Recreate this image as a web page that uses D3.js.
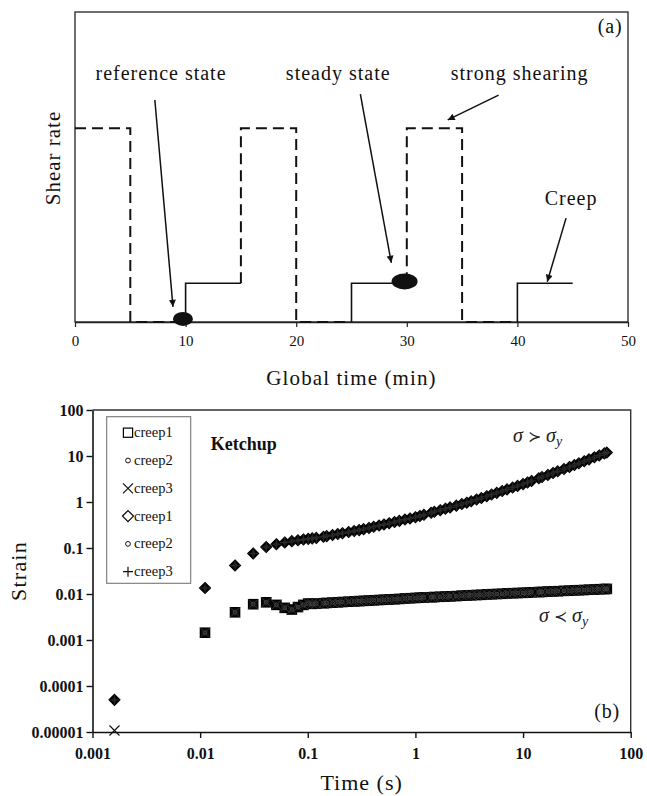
<!DOCTYPE html>
<html><head><meta charset="utf-8">
<script src="https://cdn.jsdelivr.net/npm/d3@7"></script>
<style>body{margin:0;background:#fff}svg{display:block}</style>
</head><body>
<svg id="c" width="647" height="796"></svg>
<script>
// ---------- Panel (a) data ----------
const globalTicks = [0, 10, 20, 30, 40, 50];
const shearHigh = 6.25, shearLow = 1.25;
const dashedProtocol = [
  [[0, shearHigh], [5, shearHigh], [5, 0], [10, 0]],
  [[15, shearLow], [15, shearHigh], [20, shearHigh], [20, 0], [25, 0]],
  [[30, shearLow], [30, shearHigh], [35, shearHigh], [35, 0], [40, 0]]
];
const creepProtocol = [
  [[10, 0], [10, shearLow], [15, shearLow]],
  [[25, 0], [25, shearLow], [30, shearLow]],
  [[40, 0], [40, shearLow], [45, shearLow]]
];
const stateMarkers = [[9.76, 0.1], [29.8, 1.31]];
const annotLabels = ["reference state", "steady state", "strong shearing", "Creep"];
const annotTextPos = [[7.78, 7.8], [23.8, 7.8], [40.2, 7.8], [44.85, 3.77]];
const annotArrows = [
  [[7.22, 7.16], [8.86, 0.49]],
  [[25.8, 7.35], [28.6, 1.91]],
  [[38.3, 7.32], [33.7, 6.52]],
  [[44.4, 3.35], [42.7, 1.3]]
];

// ---------- Panel (b) data ----------
const timeTicks = [0.001, 0.01, 0.1, 1, 10, 100];
const timeTickLabels = ["0.001", "0.01", "0.1", "1", "10", "100"];
const strainTicks = [1e-5, 1e-4, 1e-3, 1e-2, 0.1, 1, 10, 100];
const strainTickLabels = ["0.00001", "0.0001", "0.001", "0.01", "0.1", "1", "10", "100"];

const times = [0.0016, 0.0111, 0.0211, 0.0311, 0.0411, 0.0511, 0.0611, 0.0711, 0.0811, 0.0911,
  0.1011, 0.11, 0.12, 0.14, 0.15, 0.17, 0.19, 0.21, 0.24, 0.27, 0.30, 0.33, 0.37, 0.41, 0.46,
  0.51, 0.57, 0.64, 0.71, 0.80, 0.89, 1.0, 1.1, 1.2, 1.4, 1.5, 1.7, 1.9, 2.1, 2.4, 2.7, 3.0,
  3.3, 3.7, 4.1, 4.6, 5.1, 5.7, 6.4, 7.1, 8.0, 8.9, 10, 11, 12, 14, 15, 17, 19, 21, 24, 27,
  30, 33, 37, 41, 46, 51, 57, 60];

// below yield stress (sigma < sigma_y)
const lowCreep1 = [null, 0.00144, 0.0040, 0.0060, 0.0066, 0.0058, 0.0050, 0.0046, 0.0052, 0.0058,
  0.0062, 0.0061, 0.0062, 0.0063, 0.0064, 0.0065, 0.0066, 0.0067, 0.0068, 0.0069, 0.0070, 0.0071,
  0.0072, 0.0073, 0.0074, 0.0075, 0.0076, 0.0077, 0.0078, 0.0080, 0.0081, 0.0082, 0.0083, 0.0084,
  0.0085, 0.0086, 0.0087, 0.0088, 0.0089, 0.0090, 0.0092, 0.0093, 0.0094, 0.0095, 0.0096, 0.0098,
  0.0099, 0.0100, 0.0101, 0.0103, 0.0104, 0.0105, 0.0106, 0.0107, 0.0109, 0.0110, 0.0111, 0.0113,
  0.0114, 0.0115, 0.0117, 0.0118, 0.0120, 0.0121, 0.0122, 0.0124, 0.0125, 0.0127, 0.0128, 0.0129];
const lowCreep2 = lowCreep1;
const lowCreep3 = [0.0000108].concat(lowCreep1.slice(1));

// above yield stress (sigma > sigma_y)
const highCreep1 = [0.00005, 0.0135, 0.0417, 0.076, 0.105, 0.121, 0.132, 0.141, 0.147, 0.153,
  0.158, 0.162, 0.166, 0.175, 0.181, 0.191, 0.201, 0.210, 0.222, 0.234, 0.245, 0.257, 0.273,
  0.289, 0.308, 0.325, 0.345, 0.367, 0.389, 0.415, 0.439, 0.468, 0.498, 0.527, 0.583, 0.611,
  0.664, 0.715, 0.764, 0.834, 0.901, 0.966, 1.035, 1.13, 1.22, 1.34, 1.45, 1.58, 1.73, 1.88,
  2.06, 2.24, 2.45, 2.66, 2.87, 3.28, 3.48, 3.87, 4.27, 4.65, 5.21, 5.77, 6.35, 6.93, 7.69,
  8.45, 9.38, 10.3, 11.4, 11.9];
const highCreep2 = highCreep1;
const highCreep3 = highCreep1;

const legendLabels = ["creep1", "creep2", "creep3", "creep1", "creep2", "creep3"];
const legendSymbols = ["square", "circle", "cross", "diamond", "circle", "plus"];

// ---------- drawing ----------
const svg = d3.select("#c");
const serif = "Liberation Serif, DejaVu Serif, serif";

// Panel (a)
const xa = d3.scaleLinear().domain([0, 50]).range([75, 628]);
const ya = d3.scaleLinear().domain([0, 10]).range([322, 12]);

const defs = svg.append("defs");
defs.append("marker").attr("id", "ah").attr("viewBox", "0 0 10 10")
  .attr("refX", 10).attr("refY", 5).attr("markerWidth", 11).attr("markerHeight", 7)
  .attr("markerUnits", "userSpaceOnUse").attr("orient", "auto")
  .append("path").attr("d", "M0,0L10,5L0,10z").attr("fill", "#111");

const ga = svg.append("g");
ga.append("rect").attr("x", xa(0)).attr("y", ya(10)).attr("width", xa(50) - xa(0))
  .attr("height", ya(0) - ya(10)).attr("fill", "none").attr("stroke", "#222").attr("stroke-width", 1.3);

const axA = ga.append("g").attr("transform", `translate(0,${ya(0)})`)
  .call(d3.axisBottom(xa).tickValues(globalTicks).tickSize(5).tickSizeOuter(0).tickFormat(d3.format("d")));
axA.select(".domain").attr("stroke", "#222").attr("stroke-width", 1.3);
axA.selectAll(".tick line").attr("stroke", "#222").attr("stroke-width", 1.2);
axA.selectAll(".tick text").style("font-family", serif).attr("font-size", 15).attr("fill", "#111").attr("dy", "1.05em");

const lineA = d3.line().x(d => xa(d[0])).y(d => ya(d[1]));
ga.selectAll(".dash").data(dashedProtocol).enter().append("path")
  .attr("d", lineA).attr("fill", "none").attr("stroke", "#111").attr("stroke-width", 2)
  .attr("stroke-dasharray", "11,6");
ga.selectAll(".solid").data(creepProtocol).enter().append("path")
  .attr("d", lineA).attr("fill", "none").attr("stroke", "#111").attr("stroke-width", 1.6);

const ellSizes = [[10, 7], [13, 8]];
ga.selectAll(".ell").data(stateMarkers).enter().append("ellipse")
  .attr("cx", d => xa(d[0])).attr("cy", d => ya(d[1]))
  .attr("rx", (d, i) => ellSizes[i][0]).attr("ry", (d, i) => ellSizes[i][1]).attr("fill", "#111");

ga.selectAll(".arr").data(annotArrows).enter().append("line")
  .attr("x1", d => xa(d[0][0])).attr("y1", d => ya(d[0][1]))
  .attr("x2", d => xa(d[1][0])).attr("y2", d => ya(d[1][1]))
  .attr("stroke", "#111").attr("stroke-width", 1.5).attr("marker-end", "url(#ah)");

ga.selectAll(".lab").data(annotLabels).enter().append("text")
  .attr("x", (d, i) => xa(annotTextPos[i][0])).attr("y", (d, i) => ya(annotTextPos[i][1]))
  .attr("text-anchor", "middle").style("font-family", serif).attr("font-size", 20)
  .attr("letter-spacing", 1).attr("fill", "#111").text(d => d);

ga.append("text").attr("x", xa(49.5)).attr("y", ya(9.32)).attr("text-anchor", "end")
  .style("font-family", serif).attr("font-size", 20).attr("letter-spacing", 0.8).attr("fill", "#111").text("(a)");
ga.append("text").attr("x", (xa(0) + xa(50)) / 2).attr("y", 385).attr("text-anchor", "middle")
  .style("font-family", serif).attr("font-size", 21).attr("letter-spacing", 1.1)
  .attr("fill", "#111").text("Global time (min)");
ga.append("text").attr("transform", `translate(60,158) rotate(-90)`)
  .attr("text-anchor", "middle").style("font-family", serif).attr("font-size", 21)
  .attr("letter-spacing", 1).attr("fill", "#111").text("Shear rate");

// Panel (b)
const xb = d3.scaleLog().domain([0.001, 100]).range([92.5, 630.7]);
const yb = d3.scaleLog().domain([1e-5, 100]).range([732, 410]);
const gb = svg.append("g");

gb.append("path").attr("d", `M${xb(0.001)},${yb(100)}H${xb(100)}V${yb(1e-5)}`)
  .attr("fill", "none").attr("stroke", "#333").attr("stroke-width", 1.4);

const axBx = gb.append("g").attr("transform", `translate(0,${yb(1e-5)})`)
  .call(d3.axisBottom(xb).tickValues(timeTicks).tickSize(6).tickSizeOuter(0)
    .tickFormat((d, i) => timeTickLabels[i]));
const axBy = gb.append("g").attr("transform", `translate(${xb(0.001)},0)`)
  .call(d3.axisLeft(yb).tickValues(strainTicks).tickSize(6).tickSizeOuter(0)
    .tickFormat((d, i) => strainTickLabels[i]));
[axBx, axBy].forEach(a => {
  a.select(".domain").attr("stroke", "#111").attr("stroke-width", 1.6);
  a.selectAll(".tick line").attr("stroke", "#111").attr("stroke-width", 1.4);
  a.selectAll(".tick text").style("font-family", serif).attr("font-size", 16)
    .attr("font-weight", "bold").attr("fill", "#111");
});
axBx.selectAll(".tick text").attr("dy", "1.15em");
axBy.selectAll(".tick text").attr("x", -9);

// symbols
function drawSym(g, type, cx, cy, big, high) {
  if (type === "square") {
    g.append("rect").attr("x", cx - 4.6).attr("y", cy - 4.6).attr("width", 9.2).attr("height", 9.2)
      .attr("fill", big ? "none" : "#0d0d0d").attr("stroke", "#000").attr("stroke-width", big ? 1.2 : 1.4);
  } else if (type === "circle") {
    g.append("circle").attr("cx", cx).attr("cy", cy).attr("r", big ? 2.4 : 1.8)
      .attr("fill", "none").attr("stroke", big ? "#111" : (high ? "#2a2a2a" : "#444")).attr("stroke-width", 1);
  } else if (type === "cross") {
    g.append("path").attr("d", `M${cx - 5},${cy - 5}L${cx + 5},${cy + 5}M${cx - 5},${cy + 5}L${cx + 5},${cy - 5}`)
      .attr("stroke", big ? "#111" : "#3a3a3a").attr("stroke-width", big ? 1.2 : 0.8);
  } else if (type === "diamond") {
    g.append("path").attr("d", `M${cx},${cy - 5.5}L${cx + 5.5},${cy}L${cx},${cy + 5.5}L${cx - 5.5},${cy}Z`)
      .attr("fill", big ? "none" : "#000").attr("stroke", "#000").attr("stroke-width", big ? 1.2 : 1.1);
  } else if (type === "plus") {
    g.append("path").attr("d", `M${cx - 5},${cy}H${cx + 5}M${cx},${cy - 5}V${cy + 5}`)
      .attr("stroke", big ? "#111" : "#333").attr("stroke-width", big ? 1.2 : 0.8);
  }
}

const seriesDefs = [
  {vals: lowCreep1, sym: "square", high: false},
  {vals: lowCreep3, sym: "cross", high: false},
  {vals: lowCreep2, sym: "circle", high: false},
  {vals: highCreep1, sym: "diamond", high: true},
  {vals: highCreep3, sym: "plus", high: true},
  {vals: highCreep2, sym: "circle", high: true}
];
const gData = gb.append("g");
seriesDefs.forEach(s => {
  const gs = gData.append("g");
  s.vals.forEach((v, i) => {
    if (v == null) return;
    const cx = xb(times[i]), cy = yb(v);
    // lone early point of the cross series is drawn as an open symbol
    drawSym(gs, s.sym, cx, cy, v < 2e-5, s.high);
  });
});

// legend
const lg = gb.append("g");
lg.append("rect").attr("x", 106.7).attr("y", 416.7).attr("width", 84).attr("height", 166.6)
  .attr("fill", "#fff").attr("stroke", "#777").attr("stroke-width", 1.1);
legendLabels.forEach((lab, i) => {
  const cy = 432.7 + i * 27.8;
  drawSym(lg, legendSymbols[i], 128, cy, true, false);
  lg.append("text").attr("x", 134).attr("y", cy + 4.5).style("font-family", serif)
    .attr("font-size", 14.5).attr("fill", "#111").text(lab);
});

gb.append("text").attr("x", 210.7).attr("y", 449.5).style("font-family", serif)
  .attr("font-size", 18).attr("font-weight", "bold").attr("fill", "#111").text("Ketchup");

function sigmaLabel(x, y, rel) {
  const t = gb.append("text").attr("x", x).attr("y", y).style("font-family", serif)
    .attr("font-size", 20).attr("fill", "#222");
  t.append("tspan").attr("font-style", "italic").text("σ");
  t.append("tspan").style("font-family", "DejaVu Serif, serif").attr("font-size", 16).text(" " + rel + " ");
  t.append("tspan").attr("font-style", "italic").text("σ");
  t.append("tspan").attr("font-style", "italic").attr("font-size", 14).attr("dy", 4).text("y");
}
sigmaLabel(513, 441.5, "\u227B");
sigmaLabel(539, 621.5, "\u227A");

gb.append("text").attr("x", 620).attr("y", 718).attr("text-anchor", "end").style("font-family", serif)
  .attr("font-size", 20).attr("letter-spacing", 0.8).attr("fill", "#111").text("(b)");
gb.append("text").attr("x", (xb(0.001) + xb(100)) / 2).attr("y", 790).attr("text-anchor", "middle")
  .style("font-family", serif).attr("font-size", 22).attr("letter-spacing", 1)
  .attr("fill", "#111").text("Time (s)");
gb.append("text").attr("transform", `translate(26,${(yb(1e-5) + yb(100)) / 2}) rotate(-90)`)
  .attr("text-anchor", "middle").style("font-family", serif).attr("font-size", 22)
  .attr("letter-spacing", 1.2).attr("fill", "#111").text("Strain");
</script>
</body></html>
